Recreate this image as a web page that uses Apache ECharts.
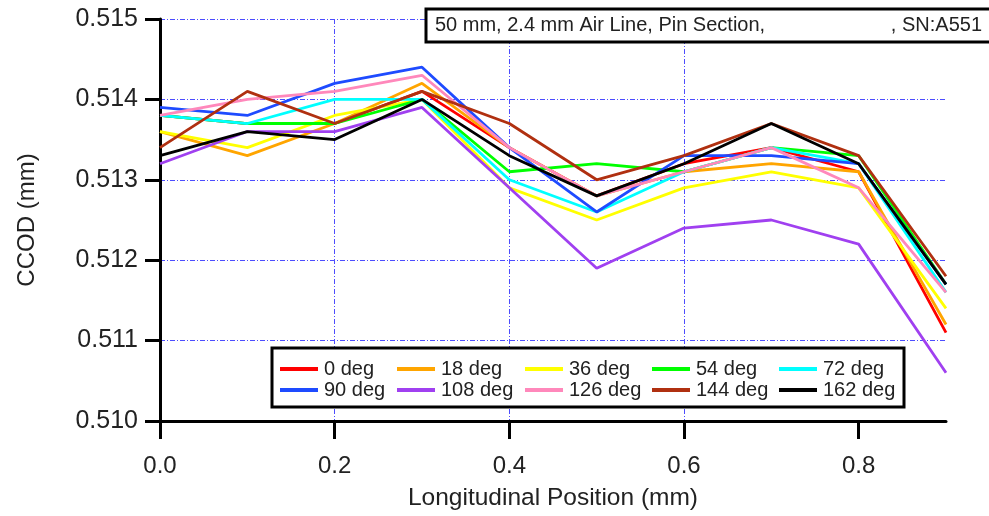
<!DOCTYPE html>
<html>
<head>
<meta charset="utf-8">
<script src="https://cdn.jsdelivr.net/npm/echarts@6/dist/echarts.min.js"></script>
<style>
  html, body { margin: 0; padding: 0; background: #fff; }
  #chart { width: 989px; height: 516px; }
</style>
</head>
<body>
<div id="chart"></div>
<script>
// Longitudinal positions (mm)
const positions = [0.0, 0.1, 0.2, 0.3, 0.4, 0.5, 0.6, 0.7, 0.8, 0.9];

// CCOD (mm) at each angle
const deg0   = [0.5138, 0.5137, 0.5137, 0.5141, 0.5134, 0.5128, 0.5132, 0.5134, 0.5131, 0.5111];
const deg18  = [0.5136, 0.5133, 0.5137, 0.5142, 0.5134, 0.5128, 0.5131, 0.5132, 0.5131, 0.5112];
const deg36  = [0.5136, 0.5134, 0.5138, 0.5140, 0.5129, 0.5125, 0.5129, 0.5131, 0.5129, 0.5114];
const deg54  = [0.5138, 0.5137, 0.5137, 0.5140, 0.5131, 0.5132, 0.5131, 0.5134, 0.5133, 0.5117];
const deg72  = [0.5138, 0.5137, 0.5140, 0.5140, 0.5130, 0.5126, 0.5131, 0.5134, 0.5132, 0.5116];
const deg90  = [0.5139, 0.5138, 0.5142, 0.5144, 0.5134, 0.5126, 0.5133, 0.5133, 0.5132, 0.5117];
const deg108 = [0.5132, 0.5136, 0.5136, 0.5139, 0.5129, 0.5119, 0.5124, 0.5125, 0.5122, 0.5106];
const deg126 = [0.5138, 0.5140, 0.5141, 0.5143, 0.5134, 0.5128, 0.5131, 0.5134, 0.5129, 0.5116];
const deg144 = [0.5134, 0.5141, 0.5137, 0.5141, 0.5137, 0.5130, 0.5133, 0.5137, 0.5133, 0.5118];
const deg162 = [0.5133, 0.5136, 0.5135, 0.5140, 0.5133, 0.5128, 0.5132, 0.5137, 0.5132, 0.5117];

const seriesNames = ['0 deg', '18 deg', '36 deg', '54 deg', '72 deg',
                     '90 deg', '108 deg', '126 deg', '144 deg', '162 deg'];
const seriesValues = [deg0, deg18, deg36, deg54, deg72, deg90, deg108, deg126, deg144, deg162];
const seriesColors = ['#ff0000', '#ffa500', '#ffff00', '#00ff00', '#00ffff',
                      '#1e4bff', '#a040f0', '#ff88bb', '#b03010', '#000000'];

const xTicks = [0.0, 0.2, 0.4, 0.6, 0.8];
const titleLeft = '50 mm, 2.4 mm Air Line, Pin Section,';
const titleRight = ', SN:A551';

const FONT = '"Liberation Sans", Arial, sans-serif';
const gridLine = { color: '#4d4dff', width: 1, type: [5, 2, 1, 2] };

const series = seriesNames.map((name, i) => ({
  name: name,
  type: 'line',
  symbol: 'none',
  animation: false,
  data: positions.map((x, j) => [x, seriesValues[i][j]]),
  lineStyle: { color: seriesColors[i], width: 2.8 },
  itemStyle: { color: seriesColors[i] },
  z: 2
}));

// Legend laid out as five columns of two entries each
const legendColumnsLeft = [280, 397, 525, 652, 779];
const legends = legendColumnsLeft.map((left, c) => ({
  orient: 'vertical',
  left: left,
  top: 359,
  itemWidth: 38,
  itemHeight: 14,
  itemGap: 1,
  padding: 0,
  selectedMode: false,
  data: [seriesNames[c], seriesNames[c + 5]].map(n => ({
    name: n,
    icon: 'path://M0,5L38,5L38,9L0,9Z'
  })),
  textStyle: { fontFamily: FONT, fontSize: 20, color: '#222', padding: [0, 0, 0, 1] },
  z: 5
}));

const chart = echarts.init(document.getElementById('chart'), null, { renderer: 'canvas' });
chart.setOption({
  animation: false,
  backgroundColor: '#ffffff',
  grid: { left: 160, right: 43, top: 19, bottom: 94, containLabel: false },
  xAxis: {
    type: 'value',
    min: 0,
    max: 0.9,
    interval: 0.2,
    name: 'Longitudinal Position (mm)',
    nameLocation: 'middle',
    nameGap: 65,
    nameTextStyle: { fontFamily: FONT, fontSize: 24.5, color: '#222' },
    axisLine: { show: true, onZero: false, lineStyle: { color: '#000', width: 3 } },
    axisTick: { show: true, length: 18, lineStyle: { color: '#000', width: 3 }, customValues: xTicks },
    axisLabel: {
      fontFamily: FONT, fontSize: 24, color: '#222', margin: 33,
      customValues: xTicks,
      formatter: v => v.toFixed(1)
    },
    splitLine: { show: true, showMinLine: false, showMaxLine: false, lineStyle: gridLine }
  },
  yAxis: {
    type: 'value',
    min: 0.510,
    max: 0.515,
    interval: 0.001,
    name: 'CCOD (mm)',
    nameLocation: 'middle',
    nameGap: 121,
    nameTextStyle: { fontFamily: FONT, fontSize: 24, color: '#222' },
    axisLine: { show: true, lineStyle: { color: '#000', width: 3 } },
    axisTick: { show: true, length: 15, lineStyle: { color: '#000', width: 3 } },
    axisLabel: {
      fontFamily: FONT, fontSize: 25, color: '#222', margin: 22,
      formatter: v => v.toFixed(3)
    },
    splitLine: { show: true, showMinLine: false, lineStyle: gridLine }
  },
  legend: legends,
  graphic: [
    {
      type: 'rect',
      z: 3,
      shape: { x: 272, y: 348, width: 632, height: 59 },
      style: { fill: '#ffffff', stroke: '#000', lineWidth: 3 }
    },
    {
      type: 'rect',
      z: 3,
      shape: { x: 426, y: 9, width: 570, height: 33 },
      style: { fill: '#ffffff', stroke: '#000', lineWidth: 3 }
    },
    {
      type: 'text',
      z: 4,
      left: 435,
      top: 15,
      style: { text: titleLeft, font: '20px ' + FONT, fill: '#222' }
    },
    {
      type: 'text',
      z: 4,
      right: 7,
      top: 15,
      style: { text: titleRight, font: '20px ' + FONT, fill: '#222', textAlign: 'right' }
    }
  ],
  series: series
});
</script>
</body>
</html>
